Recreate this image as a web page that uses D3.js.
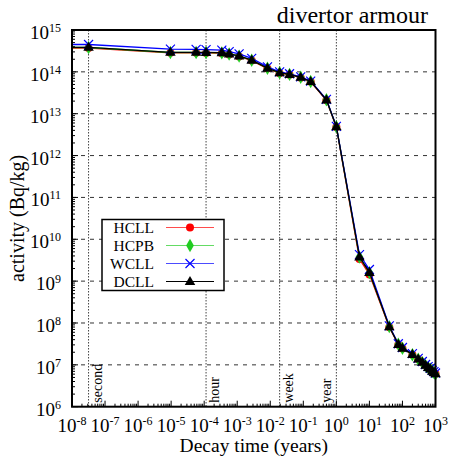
<!DOCTYPE html>
<html>
<head>
<meta charset="utf-8">
<script src="https://cdn.jsdelivr.net/npm/d3@7"></script>
<style>
  body { margin: 0; background: #fff; }
  text { font-family: "Liberation Serif", "Times New Roman", serif; fill: #000; }
</style>
</head>
<body>
<div id="chart"></div>
<script>
// decay times in years (first one is before the axis start, clipped)
const decayTimes = [1e-9, 3.17e-8, 9.51e-6, 5.70e-5, 1.14e-4, 3.42e-4, 5.70e-4, 1.14e-3,
  2.74e-3, 8.21e-3, 1.92e-2, 3.83e-2, 8.33e-2, 1.67e-1, 0.5, 1, 5, 10, 40, 75, 100,
  200, 300, 400, 500, 600, 700, 800, 900, 1000];

const hcll = [3.7e14, 3.7e14, 2.85e14, 2.85e14, 2.84e14, 2.78e14, 2.6e14, 2.33e14, 1.86e14,
  1.2e14, 9.3e13, 8.5e13, 7.25e13, 5.8e13, 2.1e13, 4.8e12, 3.4e9, 1.45e9, 7.9e7, 3.0e7,
  2.45e7, 1.75e7, 1.36e7, 1.13e7, 9.6e6, 8.6e6, 7.85e6, 7.0e6, 6.55e6, 6.1e6];
const hcpb = [3.82e14, 3.82e14, 2.9e14, 2.9e14, 2.89e14, 2.84e14, 2.66e14, 2.38e14, 1.9e14,
  1.22e14, 9.5e13, 8.7e13, 7.4e13, 5.9e13, 2.15e13, 4.9e12, 3.75e9, 1.6e9, 8.2e7, 3.1e7,
  2.5e7, 1.75e7, 1.36e7, 1.13e7, 9.6e6, 8.6e6, 7.85e6, 7.0e6, 6.55e6, 6.05e6];
const wcll = [4.5e14, 4.5e14, 3.5e14, 3.45e14, 3.4e14, 3.3e14, 3.05e14, 2.7e14, 2.1e14,
  1.32e14, 1.0e14, 9.0e13, 7.6e13, 6.0e13, 2.2e13, 5.0e12, 4.3e9, 1.9e9, 8.5e7, 3.2e7,
  2.6e7, 1.85e7, 1.43e7, 1.2e7, 1.02e7, 9.1e6, 8.3e6, 7.4e6, 6.9e6, 6.4e6];
const dcll = [3.86e14, 3.86e14, 2.93e14, 2.93e14, 2.92e14, 2.87e14, 2.69e14, 2.4e14, 1.91e14,
  1.23e14, 9.55e13, 8.71e13, 7.41e13, 5.89e13, 2.14e13, 4.9e12, 3.8e9, 1.62e9, 8.13e7, 3.09e7,
  2.51e7, 1.78e7, 1.38e7, 1.15e7, 9.77e6, 8.71e6, 7.94e6, 7.08e6, 6.61e6, 6.17e6];

const seriesNames = ["HCLL", "HCPB", "WCLL", "DCLL"];
const seriesValues = [hcll, hcpb, wcll, dcll];
const seriesColors = ["#ff0000", "#22cc22", "#0000ff", "#000000"];

const xTickExps = [-8, -7, -6, -5, -4, -3, -2, -1, 0, 1, 2, 3];
const yTickExps = [6, 7, 8, 9, 10, 11, 12, 13, 14, 15];

const markerLines = [
  { name: "second", t: 3.17e-8 },
  { name: "hour", t: 1.14e-4 },
  { name: "week", t: 1.92e-2 },
  { name: "year", t: 1 }
];

const width = 449, height = 457;
const pLeft = 72, pRight = 435.5, pTop = 30, pBottom = 406.7;

const svg = d3.select("#chart").append("svg")
  .attr("width", width)
  .attr("height", height);

const x = d3.scaleLog().domain([1e-8, 1e3]).range([pLeft, pRight]);
const y = d3.scaleLog().domain([1e6, 1e15]).range([pBottom, pTop]);

// horizontal dashed grid
svg.append("g")
  .selectAll("line")
  .data(yTickExps.filter((e) => e > 6 && e < 15))
  .enter()
  .append("line")
  .attr("x1", pLeft)
  .attr("x2", pRight)
  .attr("y1", (e) => y(Math.pow(10, e)))
  .attr("y2", (e) => y(Math.pow(10, e)))
  .attr("stroke", "#333")
  .attr("stroke-width", 1)
  .attr("stroke-dasharray", "4,5");

// vertical dotted lines at second / hour / week / year
svg.append("g")
  .selectAll("line")
  .data(markerLines)
  .enter()
  .append("line")
  .attr("x1", (d) => x(d.t))
  .attr("x2", (d) => x(d.t))
  .attr("y1", pTop)
  .attr("y2", pBottom)
  .attr("stroke", "#444")
  .attr("stroke-width", 1)
  .attr("stroke-dasharray", "1.5,1.5");

svg.append("g")
  .selectAll("text")
  .data(markerLines)
  .enter()
  .append("text")
  .attr("transform", (d) => {
    const off = d.name === "year" ? -5 : 13;
    return "translate(" + (x(d.t) + off) + "," + (pBottom - 4) + ") rotate(-90)";
  })
  .attr("font-size", "14px")
  .text((d) => d.name);

// minor + major ticks (inside)
const minors = [];
for (let e = -8; e < 3; e++) {
  for (let k = 2; k < 10; k++) minors.push(k * Math.pow(10, e));
}
const yMinors = [];
for (let e = 6; e < 15; e++) {
  for (let k = 2; k < 10; k++) yMinors.push(k * Math.pow(10, e));
}

const ticks = svg.append("g").attr("stroke", "#000").attr("stroke-width", 1);
ticks.selectAll(".xmin").data(minors).enter().append("line")
  .attr("x1", (d) => x(d)).attr("x2", (d) => x(d))
  .attr("y1", pBottom).attr("y2", pBottom - 3);
ticks.selectAll(".xmaj").data(xTickExps).enter().append("line")
  .attr("x1", (e) => x(Math.pow(10, e))).attr("x2", (e) => x(Math.pow(10, e)))
  .attr("y1", pBottom).attr("y2", pBottom - 6);
ticks.selectAll(".ymin").data(yMinors).enter().append("line")
  .attr("x1", pLeft).attr("x2", pLeft + 3)
  .attr("y1", (d) => y(d)).attr("y2", (d) => y(d));
ticks.selectAll(".ymaj").data(yTickExps).enter().append("line")
  .attr("x1", pLeft).attr("x2", pLeft + 6)
  .attr("y1", (e) => y(Math.pow(10, e))).attr("y2", (e) => y(Math.pow(10, e)));

// tick labels with superscript exponents
const xl = svg.append("g")
  .selectAll("text")
  .data(xTickExps)
  .enter()
  .append("text")
  .attr("x", (e) => x(Math.pow(10, e)))
  .attr("y", pBottom + 25)
  .attr("text-anchor", "middle")
  .attr("font-size", "19px");
xl.append("tspan").text("10");
xl.append("tspan").attr("dy", -7).attr("font-size", "12px").text((e) => e);

const yl = svg.append("g")
  .selectAll("text")
  .data(yTickExps)
  .enter()
  .append("text")
  .attr("x", pLeft - 11)
  .attr("y", (e) => y(Math.pow(10, e)) + 9)
  .attr("text-anchor", "end")
  .attr("font-size", "19px");
yl.append("tspan").text("10");
yl.append("tspan").attr("dy", -7).attr("font-size", "12px").text((e) => e);

// series
svg.append("defs").append("clipPath").attr("id", "plotClip")
  .append("rect")
  .attr("x", pLeft).attr("y", pTop - 6)
  .attr("width", pRight - pLeft + 6).attr("height", pBottom - pTop + 6);

const line = d3.line()
  .x((d) => x(d[0]))
  .y((d) => y(d[1]));

const plot = svg.append("g").attr("clip-path", "url(#plotClip)");

function drawMarker(g, i, cx, cy, color) {
  if (i === 0) {
    g.append("circle").attr("cx", cx).attr("cy", cy).attr("r", 4).attr("fill", color);
  } else if (i === 1) {
    g.append("path")
      .attr("d", d3.symbol().type(d3.symbolDiamond).size(52)())
      .attr("transform", "translate(" + cx + "," + cy + ")")
      .attr("fill", color);
  } else if (i === 2) {
    g.append("path")
      .attr("d", "M-4.5,-4.5L4.5,4.5M-4.5,4.5L4.5,-4.5")
      .attr("transform", "translate(" + cx + "," + cy + ")")
      .attr("stroke", color).attr("stroke-width", 1.2).attr("fill", "none");
  } else {
    g.append("path")
      .attr("d", d3.symbol().type(d3.symbolTriangle).size(48)())
      .attr("transform", "translate(" + cx + "," + (cy + 0.5) + ")")
      .attr("fill", color);
  }
}

seriesValues.forEach((vals, i) => {
  const pts = decayTimes.map((t, j) => [t, vals[j]]);
  plot.append("path")
    .datum(pts)
    .attr("d", line)
    .attr("fill", "none")
    .attr("stroke", seriesColors[i])
    .attr("stroke-width", 1.3);
  const mg = plot.append("g");
  pts.filter((p) => p[0] >= 1e-8).forEach((p) => {
    drawMarker(mg, i, x(p[0]), y(p[1]), seriesColors[i]);
  });
});

// frame
svg.append("rect")
  .attr("x", pLeft).attr("y", pTop)
  .attr("width", pRight - pLeft).attr("height", pBottom - pTop)
  .attr("fill", "none")
  .attr("stroke", "#000")
  .attr("stroke-width", 2);

// legend
const lg = svg.append("g");
lg.append("rect")
  .attr("x", 102).attr("y", 219.5)
  .attr("width", 122).attr("height", 71)
  .attr("fill", "#fff")
  .attr("stroke", "#000")
  .attr("stroke-width", 1.5);
seriesNames.forEach((name, i) => {
  const ly = 227.5 + i * 18;
  lg.append("text")
    .attr("x", 154)
    .attr("y", ly + 5.5)
    .attr("text-anchor", "end")
    .attr("font-size", "15.5px")
    .text(name);
  lg.append("line")
    .attr("x1", 166).attr("x2", 214)
    .attr("y1", ly).attr("y2", ly)
    .attr("stroke", seriesColors[i])
    .attr("stroke-opacity", i === 3 ? 1 : 0.7)
    .attr("stroke-width", 1.2);
  drawMarker(lg, i, 190, ly, seriesColors[i]);
});

// titles
svg.append("text")
  .attr("x", (pLeft + pRight) / 2)
  .attr("y", 452)
  .attr("text-anchor", "middle")
  .attr("font-size", "19.5px")
  .text("Decay time (years)");

svg.append("text")
  .attr("transform", "translate(24," + ((pTop + pBottom) / 2) + ") rotate(-90)")
  .attr("text-anchor", "middle")
  .attr("font-size", "20px")
  .text("activity (Bq/kg)");

svg.append("text")
  .attr("x", 428)
  .attr("y", 23)
  .attr("text-anchor", "end")
  .attr("font-size", "24px")
  .text("divertor armour");
</script>
</body>
</html>
